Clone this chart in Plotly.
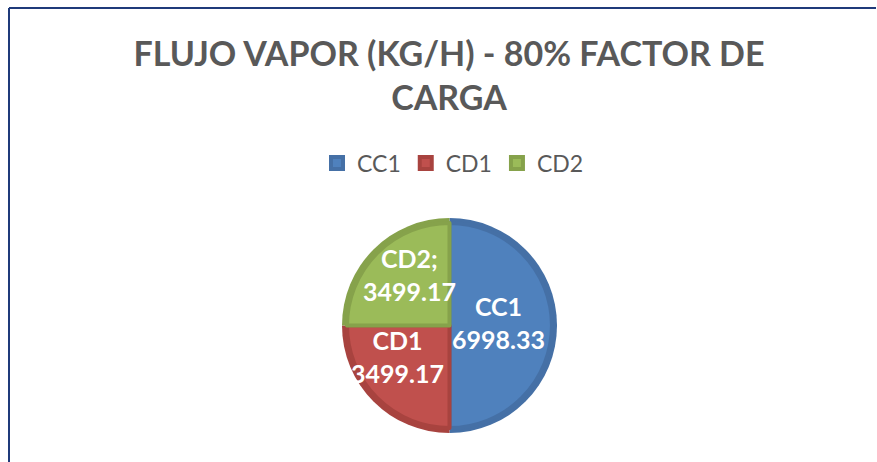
import math
import plotly.graph_objects as go

labels = ["CC1", "CD1", "CD2"]
values = [6998.33, 3499.17, 3499.17]
label_seps = ["<br>", "<br>", ";<br>"]
fill_colors = ["#4F81BD", "#C0504D", "#9BBB59"]
edge_colors = ["#4570A6", "#A8433F", "#86A24B"]

W, H = 877, 462
cx, cy, r = 449.5, 325.5, 107.5


def px(x):
    return x / W


def py(y):
    return 1 - y / H


def dom(rad):
    return dict(x=[px(cx - rad), px(cx + rad)], y=[py(cy + rad), py(cy - rad)])


texts = [f"<b>{l}{s}{v:.2f}</b>" for l, s, v in zip(labels, label_seps, values)]

fig = go.Figure()
fig.add_trace(go.Pie(
    labels=labels, values=values, sort=False, direction="clockwise", rotation=0,
    marker=dict(colors=edge_colors, line=dict(width=0)),
    textinfo="none", hoverinfo="skip", showlegend=False, domain=dom(r),
))
fig.add_trace(go.Pie(
    labels=labels, values=values, sort=False, direction="clockwise", rotation=0,
    marker=dict(colors=fill_colors, line=dict(color=edge_colors, width=4)),
    textinfo="none", showlegend=True, domain=dom(r - 5),
))

# data labels placed from the slice geometry (mid-angle, radial distance)
label_style = [  # (angle nudge in degrees, radial fraction)
    (-3, 0.46),
    (14, 0.56),
    (7, 0.60),
]
total = sum(values)
start = 0.0
annotations = []
for v, t, (dn, fr) in zip(values, texts, label_style):
    mid = start + v / total * 360 / 2 + dn
    start += v / total * 360
    lx = cx + fr * r * math.sin(math.radians(mid))
    ly = cy - fr * r * math.cos(math.radians(mid))
    annotations.append(dict(
        x=px(lx), y=py(ly), xref="paper", yref="paper", text=t, showarrow=False,
        xanchor="center", yanchor="middle", align="center",
        font=dict(family="Lato", size=25, color="white"),
    ))

fig.update_layout(
    width=W, height=H,
    margin=dict(l=0, r=0, t=0, b=0),
    paper_bgcolor="white", plot_bgcolor="white",
    title=dict(
        text="<b>FLUJO VAPOR (KG/H) - 80% FACTOR DE<br>CARGA</b>",
        x=px(449), xanchor="center", y=py(66), yanchor="middle",
        font=dict(family="Lato", size=34, color="#595959"),
    ),
    legend=dict(
        orientation="h", x=px(453), xanchor="center", y=py(163), yanchor="middle",
        font=dict(family="Lato", size=23, color="#595959"),
        itemwidth=30, tracegroupgap=0,
    ),
    annotations=annotations,
    shapes=[
        dict(type="line", xref="paper", yref="paper", x0=px(9), x1=px(876),
             y0=py(8), y1=py(8), line=dict(color="#1F3A7A", width=2)),
        dict(type="line", xref="paper", yref="paper", x0=px(9), x1=px(9),
             y0=py(8), y1=0, line=dict(color="#1F3A7A", width=2)),
    ],
)

fig.write_html(
    "out.html",
    config={"displayModeBar": False},
    post_script="document.body.style.margin='0';document.body.style.overflow='hidden';",
)
